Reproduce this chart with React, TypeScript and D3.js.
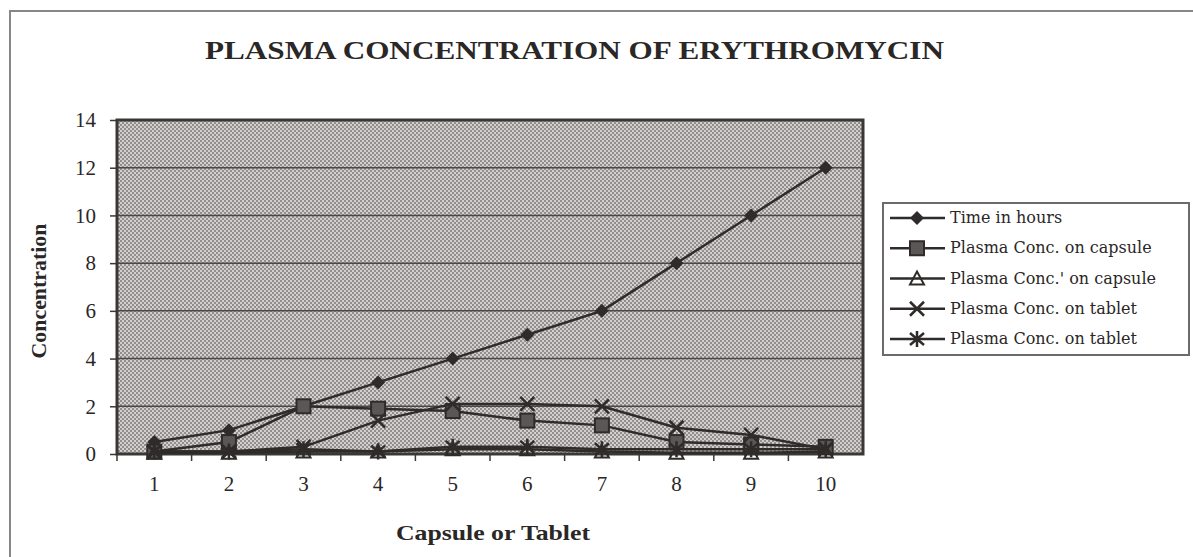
import { useEffect, useRef } from "react";
import * as d3 from "d3";

const categories = ["1", "2", "3", "4", "5", "6", "7", "8", "9", "10"];
const timeHours = [0.5, 1, 2, 3, 4, 5, 6, 8, 10, 12];
const capsuleA = [0.1, 0.5, 2.0, 1.9, 1.8, 1.4, 1.2, 0.5, 0.4, 0.3];
const capsuleB = [0.05, 0.05, 0.1, 0.1, 0.2, 0.2, 0.1, 0.05, 0.05, 0.1];
const tabletA = [0.1, 0.1, 0.3, 1.4, 2.1, 2.1, 2.0, 1.1, 0.8, 0.2];
const tabletB = [0.1, 0.1, 0.2, 0.1, 0.3, 0.3, 0.2, 0.2, 0.2, 0.2];
const yTicks = [0, 2, 4, 6, 8, 10, 12, 14];

const series = [
  { name: "Time in hours", values: timeHours, marker: "diamond" },
  { name: "Plasma Conc. on capsule", values: capsuleA, marker: "square" },
  { name: "Plasma Conc.' on capsule", values: capsuleB, marker: "triangle" },
  { name: "Plasma Conc. on tablet", values: tabletA, marker: "x" },
  { name: "Plasma Conc. on tablet", values: tabletB, marker: "star" },
];

const INK = "#2e2b2a";

function drawMarker(g: any, kind: string, cx: number, cy: number) {
  if (kind === "diamond") {
    g.append("path")
      .attr("d", `M${cx},${cy - 7}L${cx + 7},${cy}L${cx},${cy + 7}L${cx - 7},${cy}Z`)
      .attr("fill", INK);
  } else if (kind === "square") {
    g.append("rect")
      .attr("x", cx - 7).attr("y", cy - 7).attr("width", 14).attr("height", 14)
      .attr("fill", "#5a5756").attr("stroke", INK).attr("stroke-width", 2);
  } else if (kind === "triangle") {
    g.append("path")
      .attr("d", `M${cx},${cy - 7}L${cx + 7},${cy + 6}L${cx - 7},${cy + 6}Z`)
      .attr("fill", "none").attr("stroke", INK).attr("stroke-width", 2);
  } else if (kind === "x") {
    g.append("path")
      .attr("d", `M${cx - 7},${cy - 7}L${cx + 7},${cy + 7}M${cx + 7},${cy - 7}L${cx - 7},${cy + 7}`)
      .attr("stroke", INK).attr("stroke-width", 2.5);
  } else {
    g.append("path")
      .attr("d", `M${cx - 7},${cy - 6}L${cx + 7},${cy + 6}M${cx + 7},${cy - 6}L${cx - 7},${cy + 6}M${cx},${cy - 8}L${cx},${cy + 8}`)
      .attr("stroke", INK).attr("stroke-width", 2.5);
  }
}

export default function App() {
  const ref = useRef<SVGSVGElement>(null);

  useEffect(() => {
    const width = 1193;
    const height = 557;
    const plot = { left: 117, right: 863, top: 120, bottom: 454 };

    const svg = d3.select(ref.current);
    svg.selectAll("*").remove();

    const defs = svg.append("defs");
    const pat = defs.append("pattern")
      .attr("id", "dots").attr("width", 4).attr("height", 4)
      .attr("patternUnits", "userSpaceOnUse");
    pat.append("rect").attr("width", 4).attr("height", 4).attr("fill", "#d2d0cf");
    pat.append("rect").attr("x", 0).attr("y", 0).attr("width", 2).attr("height", 2).attr("fill", "#918e8d");
    pat.append("rect").attr("x", 2).attr("y", 2).attr("width", 2).attr("height", 2).attr("fill", "#918e8d");

    svg.append("rect").attr("width", width).attr("height", height).attr("fill", "#ffffff");
    svg.append("rect")
      .attr("x", 10).attr("y", 11).attr("width", width - 6).attr("height", height)
      .attr("fill", "none").attr("stroke", "#8a8685").attr("stroke-width", 2);

    const x = d3.scaleBand().domain(categories).range([plot.left, plot.right]);
    const y = d3.scaleLinear().domain([0, 14]).range([plot.bottom, plot.top]);
    const font = "'Liberation Serif', 'Times New Roman', serif";
    const wide = "'DejaVu Serif', 'Liberation Serif', serif";

    svg.append("text")
      .attr("x", 205).attr("y", 59)
      .attr("textLength", 739).attr("lengthAdjust", "spacingAndGlyphs")
      .attr("font-family", font).attr("font-weight", "bold").attr("font-size", 25)
      .attr("fill", "#2a2726")
      .text("PLASMA CONCENTRATION OF ERYTHROMYCIN");

    svg.append("rect")
      .attr("x", plot.left).attr("y", plot.top)
      .attr("width", plot.right - plot.left).attr("height", plot.bottom - plot.top)
      .attr("fill", "url(#dots)");

    svg.append("g")
      .selectAll("line")
      .data(yTicks.filter((t) => t > 0 && t < 14))
      .join("line")
      .attr("x1", plot.left).attr("x2", plot.right)
      .attr("y1", (d) => y(d)).attr("y2", (d) => y(d))
      .attr("stroke", "#4a4746").attr("stroke-width", 1.5);

    svg.append("rect")
      .attr("x", plot.left).attr("y", plot.top)
      .attr("width", plot.right - plot.left).attr("height", plot.bottom - plot.top)
      .attr("fill", "none").attr("stroke", "#3a3736").attr("stroke-width", 3);

    const yAxis = svg.append("g")
      .attr("transform", `translate(${plot.left},0)`)
      .call(d3.axisLeft(y).tickValues(yTicks).tickSize(7).tickPadding(14).tickSizeOuter(0));
    yAxis.select(".domain").remove();
    yAxis.selectAll("line").attr("stroke", "#3a3736").attr("stroke-width", 1.5);
    yAxis.selectAll("text")
      .attr("font-family", font).attr("font-size", 21).attr("fill", "#2a2726");

    const xAxis = svg.append("g")
      .attr("transform", `translate(0,${plot.bottom})`)
      .call(d3.axisBottom(x).tickSize(0).tickPadding(22));
    xAxis.select(".domain").remove();
    xAxis.selectAll("text")
      .attr("font-family", font).attr("font-size", 21).attr("fill", "#2a2726");
    svg.append("g")
      .selectAll("line")
      .data(categories)
      .join("line")
      .attr("x1", (d) => (x(d) as number))
      .attr("x2", (d) => (x(d) as number))
      .attr("y1", plot.bottom).attr("y2", plot.bottom + 7)
      .attr("stroke", "#3a3736").attr("stroke-width", 1.5);

    svg.append("text")
      .attr("transform", `translate(46,${(plot.top + plot.bottom) / 2 + 4}) rotate(-90)`)
      .attr("text-anchor", "middle")
      .attr("textLength", 135).attr("lengthAdjust", "spacingAndGlyphs")
      .attr("font-family", font).attr("font-weight", "bold").attr("font-size", 21)
      .attr("fill", "#2a2726")
      .text("Concentration");

    svg.append("text")
      .attr("x", 493).attr("y", 540)
      .attr("text-anchor", "middle")
      .attr("textLength", 194).attr("lengthAdjust", "spacingAndGlyphs")
      .attr("font-family", font).attr("font-weight", "bold").attr("font-size", 21)
      .attr("fill", "#2a2726")
      .text("Capsule or Tablet");

    const cx = (i: number) => (x(categories[i]) as number) + x.bandwidth() / 2;
    const line = d3.line<number>().x((_, i) => cx(i)).y((d) => y(d));

    series.forEach((s) => {
      const g = svg.append("g");
      g.append("path")
        .attr("d", line(s.values))
        .attr("fill", "none").attr("stroke", INK).attr("stroke-width", 2.5);
      s.values.forEach((v, i) => drawMarker(g, s.marker, cx(i), y(v)));
    });

    const legend = svg.append("g");
    legend.append("rect")
      .attr("x", 883).attr("y", 203).attr("width", 306).attr("height", 152)
      .attr("fill", "#ffffff").attr("stroke", "#6d6a69").attr("stroke-width", 2);
    const rowY = d3.scalePoint<number>().domain(d3.range(series.length)).range([218, 339]);
    series.forEach((s, i) => {
      const yy = rowY(i) as number;
      legend.append("line")
        .attr("x1", 890).attr("x2", 945).attr("y1", yy).attr("y2", yy)
        .attr("stroke", INK).attr("stroke-width", 2.5);
      drawMarker(legend, s.marker, 917, yy);
      legend.append("text")
        .attr("x", 950).attr("y", yy + 5)
        .attr("font-family", wide).attr("font-size", 16).attr("fill", "#2a2726")
        .text(s.name);
    });
  }, []);

  return (
    <svg
      ref={ref}
      width={1193}
      height={557}
      style={{ position: "absolute", left: 0, top: 0, display: "block" }}
    />
  );
}
